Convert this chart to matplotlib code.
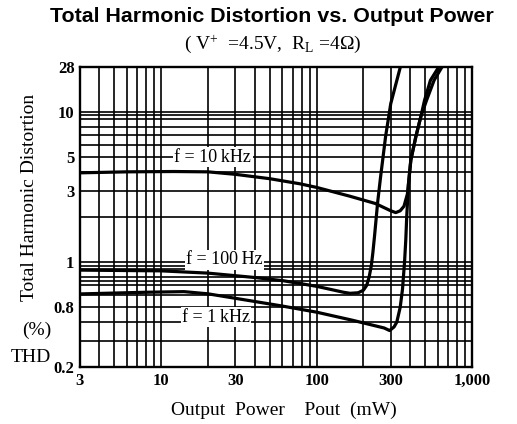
import matplotlib
matplotlib.use("Agg")
import matplotlib.pyplot as plt
from matplotlib.ticker import FixedLocator, FixedFormatter, NullFormatter

# ---- data ----
p_10k = [3, 6, 12, 20, 30, 50, 78, 100, 164, 239, 300, 323, 345, 365, 384, 393, 404, 435, 468, 510, 570, 650]
thd_10k = [3.94, 4.0, 4.02, 4.0, 3.85, 3.6, 3.33, 3.15, 2.75, 2.46, 2.2, 2.14, 2.2, 2.36, 2.85, 3.6, 4.8, 6.85, 9.3, 12.0, 16.3, 20.5]

p_100 = [3, 10, 20, 40, 61, 100, 149, 164, 185, 200, 210, 218, 225, 230, 236, 247, 258, 278, 300, 348]
thd_100 = [0.885, 0.875, 0.845, 0.79, 0.752, 0.69, 0.63, 0.62, 0.625, 0.65, 0.7, 0.8, 0.95, 1.15, 1.5, 2.5, 3.7, 6.9, 11.4, 20.5]

p_1k = [3, 8, 14, 20, 37, 60, 100, 170, 272, 295, 315, 328, 345, 357, 368, 375, 380, 390, 404, 435, 468, 495, 540, 620]
thd_1k = [0.614, 0.63, 0.636, 0.615, 0.554, 0.51, 0.464, 0.41, 0.364, 0.35, 0.37, 0.398, 0.5, 0.66, 1.0, 1.42, 2.0, 3.3, 4.8, 6.85, 9.3, 12.0, 16.3, 20.5]

x_ticks = [3, 10, 30, 100, 300, 1000]
x_ticklabels = ["3", "10", "30", "100", "300", "1,000"]
y_ticks = [0.2, 0.5, 1, 3, 5, 10, 20]
y_ticklabels = ["0.2", "0.8", "1", "3", "5", "10", "28"]

x_grid = [4, 5, 6, 7, 8, 9, 10, 20, 30, 40, 50, 60, 70, 80, 90, 100,
          200, 300, 400, 500, 600, 700, 800, 900]
y_grid = [0.3, 0.4, 0.5, 0.6, 0.7, 0.75, 0.8, 0.9, 0.94, 1, 2, 3, 4, 5, 6, 7, 8, 9, 9.55, 10]

curve_labels = ["f = 10\u2009kHz", "f = 100\u2009Hz", "f = 1\u2009kHz"]
label_pos = [(21.5, 5.0), (25.5, 1.04), (22.5, 0.43)]

# ---- figure ----
plt.rcParams['mathtext.fontset'] = 'custom'
plt.rcParams['mathtext.rm'] = 'Liberation Serif'
plt.rcParams['mathtext.it'] = 'Liberation Serif:italic'

fig = plt.figure(figsize=(5.17, 4.24), dpi=100)
ax = fig.add_axes([80/517, 57/424, 392/517, 300/424])
ax.set_xscale('log')
ax.set_yscale('log')
ax.set_xlim(3, 1000)
ax.set_ylim(0.2, 20)

ax.xaxis.set_major_locator(FixedLocator(x_ticks))
ax.xaxis.set_major_formatter(FixedFormatter(x_ticklabels))
ax.xaxis.set_minor_locator(FixedLocator(x_grid))
ax.xaxis.set_minor_formatter(NullFormatter())
ax.yaxis.set_major_locator(FixedLocator(y_ticks))
ax.yaxis.set_major_formatter(FixedFormatter(y_ticklabels))
ax.yaxis.set_minor_locator(FixedLocator(y_grid))
ax.yaxis.set_minor_formatter(NullFormatter())

ax.grid(True, which='both', color='black', lw=1.2)
ax.set_axisbelow(True)
ax.tick_params(which='both', length=0)
ax.tick_params(axis='x', pad=4)
ax.tick_params(axis='y', pad=4)
for lab in ax.get_xticklabels() + ax.get_yticklabels():
    lab.set_fontfamily('Liberation Serif')
    lab.set_fontweight('bold')
    lab.set_fontsize(12)
for s in ax.spines.values():
    s.set_linewidth(1.7)

ax.plot(p_10k, thd_10k, color='black', lw=2.3, zorder=3)
ax.plot(p_100, thd_100, color='black', lw=2.3, zorder=3)
ax.plot(p_1k, thd_1k, color='black', lw=2.3, zorder=3)

for txt, (lx, ly) in zip(curve_labels, label_pos):
    ax.text(lx, ly, txt, fontfamily='Liberation Serif', fontsize=13,
            ha='center', va='center', zorder=4,
            bbox=dict(facecolor='white', edgecolor='none', pad=1.0))

fig.text(271.5/517, 1 - 17/424, "Total Harmonic Distortion vs. Output Power",
         fontfamily='Liberation Sans', fontweight='bold', fontsize=15.4,
         ha='center', va='center')
fig.text(273/517, 1 - 44/424, r"( V$^{+}$  =4.5V,  R$_{\rm L}$ =4$\Omega$)",
         fontfamily='Liberation Serif', fontsize=14, ha='center', va='center')
fig.text(30/517, 1 - 197/424, "Total Harmonic Distortion", rotation=90,
         fontfamily='Liberation Serif', fontsize=14, ha='center', va='center')
fig.text(37/517, 1 - 330/424, "(%)", fontfamily='Liberation Serif',
         fontsize=14, ha='center', va='center')
fig.text(31/517, 1 - 357/424, "THD", fontfamily='Liberation Serif',
         fontsize=14, ha='center', va='center')
fig.text(284/517, 1 - 410/424, "Output  Power    Pout  (mW)",
         fontfamily='Liberation Serif', fontsize=14, ha='center', va='center')

fig.savefig("out.png", dpi=100)
